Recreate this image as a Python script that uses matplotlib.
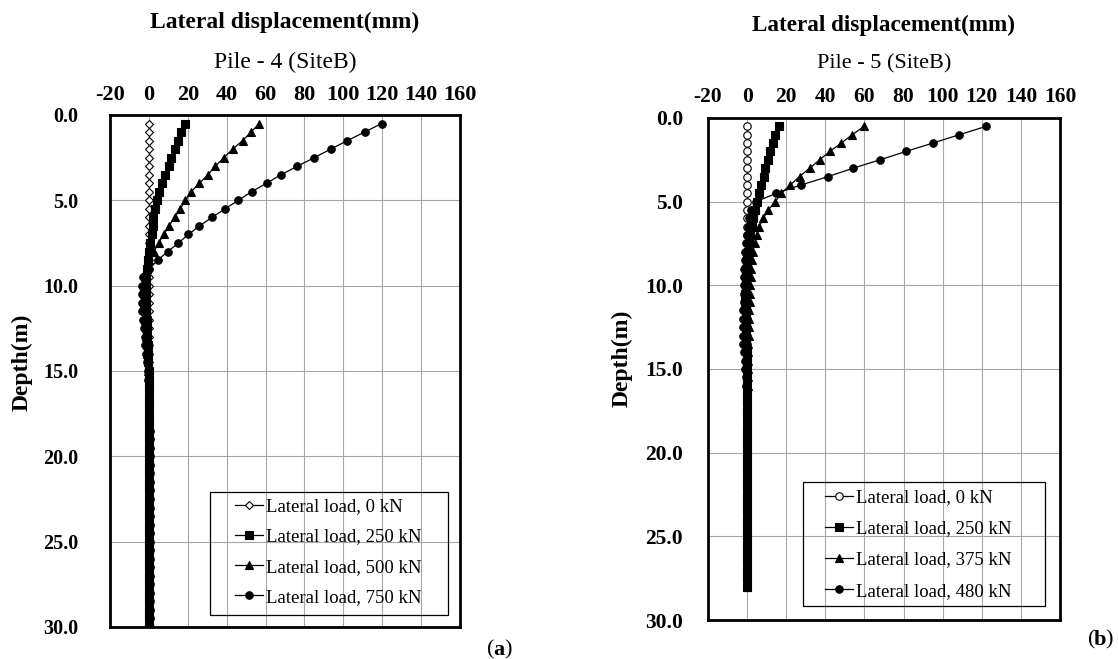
import matplotlib
matplotlib.use("Agg")
import matplotlib.pyplot as plt
from matplotlib.patches import Rectangle

plt.rcParams['font.family'] = ['Liberation Serif', 'DejaVu Serif']

# Pile-4 (Site B): depth below ground (m) and lateral displacement (mm)
depth_p4 = [0.5, 1.0, 1.5, 2.0, 2.5, 3.0, 3.5, 4.0, 4.5, 5.0,
            5.5, 6.0, 6.5, 7.0, 7.5, 8.0, 8.5, 9.0, 9.5, 10.0,
            10.5, 11.0, 11.5, 12.0, 12.5, 13.0, 13.5, 14.0, 14.5, 15.0,
            15.5, 16.0, 16.5, 17.0, 17.5, 18.0, 18.5, 19.0, 19.5, 20.0,
            20.5, 21.0, 21.5, 22.0, 22.5, 23.0, 23.5, 24.0, 24.5, 25.0,
            25.5, 26.0, 26.5, 27.0, 27.5, 28.0, 28.5, 29.0, 29.5, 30.0]
p4_0kN = [0.3, 0.3, 0.3, 0.3, 0.3, 0.3, 0.3, 0.3, 0.3, 0.3,
          0.3, 0.3, 0.3, 0.3, 0.3, 0.3, 0.3, 0.3, 0.3, 0.3,
          0.3, 0.3, 0.3, 0.3, 0.3, 0.3, 0.3, 0.3, 0.3, 0.3,
          0.3, 0.3, 0.3, 0.3, 0.3, 0.3, 0.3, 0.3, 0.3, 0.3,
          0.3, 0.3, 0.3, 0.3, 0.3, 0.3, 0.3, 0.3, 0.3, 0.3,
          0.3, 0.3, 0.3, 0.3, 0.3, 0.3, 0.3, 0.3, 0.3, 0.3]
p4_250kN = [18.6, 16.6, 15.0, 13.3, 11.5, 10.1, 8.2, 6.5, 5.3, 4.3,
            3.2, 2.2, 1.9, 1.5, 0.7, 0.0, -0.5, -1.0, -1.3, -1.5,
            -1.5, -1.4, -1.3, -1.1, -1.0, -0.8, -0.6, -0.4, -0.3, -0.1,
            0.0, 0.1, 0.1, 0.2, 0.2, 0.2, 0.2, 0.2, 0.2, 0.2,
            0.2, 0.2, 0.2, 0.2, 0.2, 0.2, 0.2, 0.2, 0.2, 0.2,
            0.2, 0.2, 0.2, 0.2, 0.2, 0.2, 0.2, 0.2, 0.2, 0.2]
p4_500kN = [56.8, 52.5, 48.2, 43.1, 38.5, 34.2, 30.3, 26.0, 21.7, 18.8,
            16.1, 13.2, 10.3, 7.7, 5.0, 2.6, 0.3, -1.2, -2.0, -2.4,
            -2.5, -2.4, -2.2, -2.0, -1.7, -1.4, -1.1, -0.8, -0.6, -0.4,
            -0.2, 0.0, 0.1, 0.2, 0.3, 0.3, 0.3, 0.3, 0.3, 0.3,
            0.3, 0.3, 0.3, 0.3, 0.3, 0.3, 0.3, 0.3, 0.3, 0.3,
            0.3, 0.3, 0.3, 0.3, 0.3, 0.3, 0.3, 0.3, 0.3, 0.3]
p4_750kN = [119.7, 110.9, 102.1, 93.5, 85.0, 76.4, 67.9, 60.5, 52.8, 46.0,
            39.1, 32.5, 26.0, 20.3, 15.2, 9.7, 4.6, 0.3, -2.8, -3.6,
            -3.8, -3.7, -3.4, -3.0, -2.6, -2.2, -1.8, -1.4, -1.0, -0.7,
            -0.4, -0.2, 0.0, 0.1, 0.2, 0.3, 0.4, 0.4, 0.4, 0.4,
            0.4, 0.4, 0.4, 0.4, 0.4, 0.4, 0.4, 0.4, 0.4, 0.4,
            0.4, 0.4, 0.4, 0.4, 0.4, 0.4, 0.4, 0.4, 0.4, 0.4]

# Pile-5 (Site B)
depth_p5 = [0.5, 1.0, 1.5, 2.0, 2.5, 3.0, 3.5, 4.0, 4.5, 5.0,
            5.5, 6.0, 6.5, 7.0, 7.5, 8.0, 8.5, 9.0, 9.5, 10.0,
            10.5, 11.0, 11.5, 12.0, 12.5, 13.0, 13.5, 14.0, 14.5, 15.0,
            15.5, 16.0, 16.5, 17.0, 17.5, 18.0, 18.5, 19.0, 19.5, 20.0,
            20.5, 21.0, 21.5, 22.0, 22.5, 23.0, 23.5, 24.0, 24.5, 25.0,
            25.5, 26.0, 26.5, 27.0, 27.5, 28.0]
p5_0kN = [0.0, 0.0, 0.0, 0.0, 0.0, 0.0, 0.0, 0.0, 0.0, 0.0,
          0.0, 0.0, 0.0, 0.0, 0.0, 0.0, 0.0, 0.0, 0.0, 0.0,
          0.0, 0.0, 0.0, 0.0, 0.0, 0.0, 0.0, 0.0, 0.0, 0.0,
          0.0, 0.0, 0.0, 0.0, 0.0, 0.0, 0.0, 0.0, 0.0, 0.0,
          0.0, 0.0, 0.0, 0.0, 0.0, 0.0, 0.0, 0.0, 0.0, 0.0,
          0.0, 0.0, 0.0, 0.0, 0.0, 0.0]
p5_250kN = [16.1, 14.5, 13.2, 11.8, 10.6, 9.2, 8.4, 7.2, 6.0, 5.0,
            3.8, 2.9, 2.6, 1.7, 0.9, 0.3, -0.2, -0.5, -0.7, -0.8,
            -0.9, -0.9, -0.8, -0.7, -0.6, -0.5, -0.4, -0.3, -0.2, -0.1,
            0.0, 0.0, 0.0, 0.0, 0.0, 0.0, 0.0, 0.0, 0.0, 0.0,
            0.0, 0.0, 0.0, 0.0, 0.0, 0.0, 0.0, 0.0, 0.0, 0.0,
            0.0, 0.0, 0.0, 0.0, 0.0, 0.0]
p5_375kN = [59.8, 53.7, 48.2, 42.2, 37.1, 32.0, 26.8, 22.1, 17.4, 14.4,
            10.8, 8.2, 6.3, 4.9, 3.8, 3.0, 2.5, 2.1, 1.8, 1.6,
            1.4, 1.3, 1.1, 1.0, 0.9, 0.8, 0.7, 0.6, 0.5, 0.4,
            0.3, 0.2, 0.1, 0.0, 0.0, 0.0, 0.0, 0.0, 0.0, 0.0,
            0.0, 0.0, 0.0, 0.0, 0.0, 0.0, 0.0, 0.0, 0.0, 0.0,
            0.0, 0.0, 0.0, 0.0, 0.0, 0.0]
p5_480kN = [122.2, 108.5, 94.9, 81.2, 67.9, 54.2, 41.4, 27.7, 14.9, 4.6,
            2.0, 0.8, 0.2, -0.3, -0.7, -1.0, -1.2, -1.4, -1.5, -1.6,
            -1.7, -1.8, -1.9, -2.0, -2.1, -2.2, -2.0, -1.6, -1.2, -0.9,
            -0.6, -0.4, -0.3, -0.2, -0.1, 0.0, 0.0, 0.0, 0.0, 0.0,
            0.0, 0.0, 0.0, 0.0, 0.0, 0.0, 0.0, 0.0, 0.0, 0.0,
            0.0, 0.0, 0.0, 0.0, 0.0, 0.0]

x_ticks = [-20, 0, 20, 40, 60, 80, 100, 120, 140, 160]
y_ticks = [0, 5, 10, 15, 20, 25, 30]

fig = plt.figure(figsize=(11.18, 6.59), dpi=100)
W, H = 1118, 659


def fx(px):
    return px / W


def fy(py):
    return 1 - py / H


def px_axes(x0, y0, x1, y1):
    return fig.add_axes([fx(x0), fy(y1), (x1 - x0) / W, (y1 - y0) / H])


def setup(ax, depth, series, labels, markers, xfs, yfs, xpad, ypad):
    for xs, lab, mk in zip(series, labels, markers):
        open_mk = lab.endswith(' 0 kN')
        ax.plot(xs, depth, color='black', lw=0.9, marker=mk,
                ms=5.4 if mk != 'D' else 4.4,
                mfc='white' if open_mk else 'black', mec='black', mew=0.8,
                label=lab, zorder=3)
    ax.set_xlim(-20, 160)
    ax.set_ylim(30, 0)
    ax.set_xticks(x_ticks)
    ax.set_yticks(y_ticks)
    ax.set_xticklabels([str(t) for t in x_ticks])
    ax.set_yticklabels([f"{t:.1f}" for t in y_ticks])
    ax.xaxis.tick_top()
    ax.tick_params(axis='x', length=0, pad=xpad, labelsize=xfs)
    ax.tick_params(axis='y', length=0, pad=ypad, labelsize=yfs)
    for lab in ax.get_xticklabels() + ax.get_yticklabels():
        lab.set_fontweight('bold')
    ax.grid(True, color='#A6A6A6', lw=0.8)
    ax.set_axisbelow(True)
    for sp in ax.spines.values():
        sp.set_linewidth(2.0)
        sp.set_color('black')


def legend_box(ax, box, content_xy, spacing):
    # framed legend with the wide left indent of a spreadsheet chart legend
    x0, y0, x1, y1 = box
    ax.legend(loc='upper left', bbox_to_anchor=(fx(content_xy[0]), fy(content_xy[1])),
              bbox_transform=fig.transFigure, fontsize=13.5, frameon=False,
              handlelength=1.5, handletextpad=0.15, labelspacing=spacing,
              borderpad=0, borderaxespad=0)
    fig.patches.append(Rectangle((fx(x0), fy(y1)), (x1 - x0) / W, (y1 - y0) / H,
                                 transform=fig.transFigure, fill=False,
                                 edgecolor='black', lw=0.9, zorder=5))


# panel (a)
ax1 = px_axes(110, 115, 460, 627)
setup(ax1, depth_p4, [p4_0kN, p4_250kN, p4_500kN, p4_750kN],
      ['Lateral load, 0 kN', 'Lateral load, 250 kN', 'Lateral load, 500 kN', 'Lateral load, 750 kN'],
      ['D', 's', '^', 'o'], 16, 14.5, 7, 23)
legend_box(ax1, (210, 492, 448, 615), (235, 498), 0.7)
fig.text(fx(285), fy(22), 'Lateral displacement(mm)', ha='center', va='center',
         fontsize=17, fontweight='bold')
fig.text(fx(285), fy(62), 'Pile - 4 (SiteB)', ha='center', va='center', fontsize=17)
fig.text(fx(22), fy(362), 'Depth(m)', ha='center', va='center', rotation=90,
         fontsize=17, fontweight='bold')

# panel (b)
ax2 = px_axes(708, 118, 1060, 620)
setup(ax2, depth_p5, [p5_0kN, p5_250kN, p5_375kN, p5_480kN],
      ['Lateral load, 0 kN', 'Lateral load, 250 kN', 'Lateral load, 375 kN', 'Lateral load, 480 kN'],
      ['o', 's', '^', 'o'], 15.5, 15.5, 8, 18)
legend_box(ax2, (803, 482, 1045, 606), (825, 489), 0.75)
fig.text(fx(884), fy(25), 'Lateral displacement(mm)', ha='center', va='center',
         fontsize=16.7, fontweight='bold')
fig.text(fx(884), fy(64), 'Pile - 5 (SiteB)', ha='center', va='center', fontsize=16)
fig.text(fx(622), fy(358), 'Depth(m)', ha='center', va='center', rotation=90,
         fontsize=17, fontweight='bold')

# sub-figure tags: plain brackets, bold letter
for cx, cy, tag in [(499, 650, 'a'), (1100, 640, 'b')]:
    fig.text(fx(cx - 5), fy(cy), '(', ha='right', va='center', fontsize=16)
    fig.text(fx(cx), fy(cy), tag, ha='center', va='center', fontsize=16, fontweight='bold')
    fig.text(fx(cx + 5), fy(cy), ')', ha='left', va='center', fontsize=16)

fig.savefig('out.png', dpi=100)
